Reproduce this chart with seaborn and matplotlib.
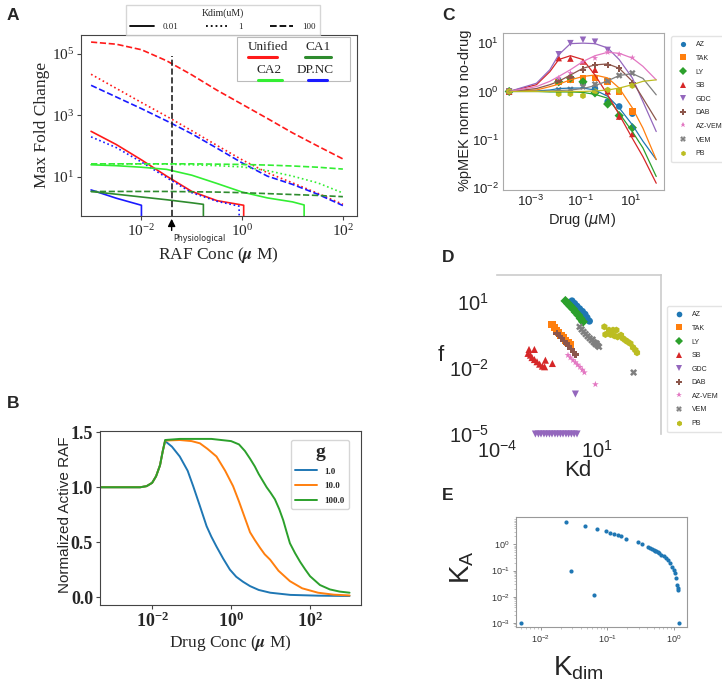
import numpy as np
import pandas as pd
import matplotlib
matplotlib.use('Agg')
import matplotlib.pyplot as plt
import seaborn as sns
from matplotlib.lines import Line2D
from matplotlib.patches import Rectangle
from matplotlib.ticker import FixedLocator, FuncFormatter, NullLocator, LogLocator, NullFormatter

W, H = 722, 681
SERIF = 'Liberation Serif'
SANS = 'Liberation Sans'

# ---------------- panel A (log10 of values) ----------------
a_x = [-3, -2.5, -2, -1.5, -1, -0.5, 0, 0.5, 1, 1.5, 2]
uni_k100 = [5.39, 5.32, 5.14, 4.78, 4.32, 3.82, 3.36, 2.9, 2.43, 2.0, 1.58]
uni_k1 = [4.34, 3.88, 3.42, 2.97, 2.5, 2.02, 1.55, 1.13, 0.8, 0.46, 0.1]
dp_k100 = [3.98, 3.6, 3.22, 2.82, 2.4, 1.93, 1.45, 1.02, 0.75, 0.43, 0.06]
ca2_k100 = [1.42, 1.42, 1.42, 1.42, 1.42, 1.41, 1.40, 1.38, 1.35, 1.31, 1.25]
ca2_k1 = [1.42, 1.42, 1.42, 1.41, 1.39, 1.36, 1.32, 1.2, 1.02, 0.8, 0.47]
ca1_k100 = [0.52, 0.52, 0.52, 0.52, 0.51, 0.5, 0.48, 0.45, 0.42, 0.39, 0.35]
# curves that end by dropping to zero
uni_k001_x = [-3, -2.5, -2, -1.5, -1, -0.5, 0.03, 0.03]
uni_k001 = [2.48, 2.05, 1.55, 1.02, 0.52, 0.22, 0.07, -3]
dp_k1_x = [-3, -2.5, -2, -1.5, -1, -0.5, -0.06, -0.06]
dp_k1 = [2.3, 1.95, 1.48, 0.97, 0.48, 0.2, 0.04, -3]
dp_k001_x = [-3, -2.5, -2, -2]
dp_k001 = [0.57, 0.3, 0.07, -3]
ca1_k001_x = [-3, -2.5, -2, -1.5, -1, -0.77, -0.77]
ca1_k001 = [0.52, 0.43, 0.34, 0.25, 0.15, 0.1, -3]
ca2_k001_x = [-3, -2.5, -2, -1.5, -1, -0.5, 0, 0.5, 1, 1.23, 1.23]
ca2_k001 = [1.39, 1.36, 1.31, 1.24, 1.05, 0.78, 0.5, 0.31, 0.18, 0.08, -3]
physio_x = 10 ** -1.4
physio_top = 10 ** 4.93

RED, DGREEN, LGREEN, BLUE = '#ff1a1a', '#2e8b2e', '#33ee33', '#1a1aff'

# ---------------- panel B ----------------
b_g1_x = [-3.3, -2.5, -2.3, -2.14, -2.0, -1.9, -1.8, -1.73, -1.67, -1.5, -1.3, -1.1, -0.96,
          -0.8, -0.62, -0.5, -0.37, -0.2, -0.03, 0.13, 0.3, 0.48, 0.7, 0.99, 1.5, 2.2, 3.0]
b_g1 = [1.0, 1.0, 1.0, 1.01, 1.04, 1.1, 1.2, 1.33, 1.42, 1.37, 1.28, 1.15, 1.01,
        0.84, 0.645, 0.55, 0.46, 0.35, 0.25, 0.185, 0.14, 0.1, 0.065, 0.04, 0.02, 0.013, 0.01]
b_g10_x = [-3.3, -2.5, -2.3, -2.14, -2.0, -1.9, -1.8, -1.73, -1.67, -1.3, -1.0, -0.79, -0.6,
           -0.37, -0.15, 0.05, 0.2, 0.39, 0.48, 0.6, 0.73, 0.85, 0.99, 1.2, 1.49, 1.8, 2.2,
           2.6, 3.0]
b_g10 = [1.0, 1.0, 1.0, 1.01, 1.04, 1.1, 1.2, 1.33, 1.425, 1.43, 1.42, 1.40, 1.35,
         1.28, 1.15, 1.01, 0.87, 0.68, 0.59, 0.52, 0.45, 0.39, 0.34, 0.24, 0.145, 0.08, 0.04,
         0.022, 0.015]
b_g100_x = [-3.3, -2.5, -2.3, -2.14, -2.0, -1.9, -1.8, -1.73, -1.67, -1.3, -0.5, 0.0, 0.2,
            0.35, 0.48, 0.6, 0.7, 0.8, 0.9, 1.0, 1.11, 1.22, 1.32, 1.4, 1.49, 1.62, 1.75, 1.88,
            2.0, 2.25, 2.5, 2.75, 3.0]
b_g100 = [1.0, 1.0, 1.0, 1.01, 1.04, 1.1, 1.2, 1.33, 1.43, 1.44, 1.44, 1.42, 1.39,
          1.33, 1.26, 1.19, 1.12, 1.06, 1.0, 0.95, 0.89, 0.8, 0.7, 0.6, 0.49, 0.4, 0.32, 0.25,
          0.19, 0.11, 0.07, 0.05, 0.04]
b_labels = ['1.0', '10.0', '100.0']

# ---------------- panel C ----------------
DRUGS = ['AZ', 'TAK', 'LY', 'SB', 'GDC', 'DAB', 'AZ-VEM', 'VEM', 'PB']
PAL = dict(zip(DRUGS, sns.color_palette('tab10', 10)[:9]))
MARKERS = {'AZ': 'o', 'TAK': 's', 'LY': 'D', 'SB': '^', 'GDC': 'v', 'DAB': 'P',
           'AZ-VEM': '*', 'VEM': 'X', 'PB': 'h'}
c_dose = [1.4e-4, 0.013, 0.038, 0.12, 0.36, 1.15, 3.3, 11]
c_pts = {  # log10 of %pMEK
    'AZ': [0, 0.22, 0.24, 0.18, 0.06, -0.21, -0.31, -0.46],
    'TAK': [0, 0.2, 0.25, 0.28, 0.28, 0.21, 0.0, -0.41],
    'LY': [0, 0.2, 0.28, 0.2, -0.03, -0.26, -0.5, -0.75],
    'SB': [0, 0.69, 0.68, 0.62, 0.45, 0.0, -0.52, -0.88],
    'GDC': [0, 0.77, 1.0, 1.07, 1.03, 0.86],
    'DAB': [0, 0.21, 0.29, 0.45, 0.55, 0.55, 0.48, 0.17],
    'AZ-VEM': [0, 0.28, 0.38, 0.61, 0.69, 0.81, 0.77, 0.70],
    'VEM': [0, 0.03, 0.04, 0.1, 0.15, 0.22, 0.33, 0.38],
    'PB': [0, -0.05, -0.05, -0.09, 0.0, 0.03, 0.02, 0.12],
}
c_fit_dose = [1.4e-4, 1.7e-3, 5.8e-3, 0.013, 0.038, 0.12, 0.36, 1.15, 3.3, 11, 29, 98]
c_fit = {
    'AZ': [0, 0.01, 0.03, 0.06, 0.07, 0.07, 0.03, -0.1, -0.34, -0.69, -1.03, -1.41],
    'TAK': [0, 0.03, 0.1, 0.15, 0.24, 0.31, 0.34, 0.28, 0.07, -0.34, -0.76, -1.41],
    'LY': [0, 0, -0.01, -0.01, -0.01, -0.02, -0.06, -0.14, -0.45, -0.83, -1.17, -1.76],
    'SB': [0, 0.14, 0.41, 0.66, 0.74, 0.66, 0.34, -0.07, -0.48, -0.97, -1.35, -1.9],
    'GDC': [0, 0.17, 0.45, 0.76, 0.99, 1.0, 0.99, 0.9, 0.66, 0.28, -0.21, -0.83],
    'DAB': [0, 0.06, 0.14, 0.21, 0.34, 0.48, 0.55, 0.57, 0.48, 0.21, -0.14, -0.59],
    'AZ-VEM': [0, 0.1, 0.21, 0.31, 0.45, 0.62, 0.74, 0.81, 0.79, 0.69, 0.52, 0.24],
    'VEM': [0, 0, 0.01, 0.02, 0.03, 0.06, 0.12, 0.22, 0.33, 0.37, 0.27, -0.07],
    'PB': [0, 0, 0, 0, 0, 0, 0.01, 0.03, 0.07, 0.14, 0.21, 0.24],
}

# ---------------- panel D (log10 Kd, log10 f) ----------------
d_kd = {
    'AZ': [-0.25, -0.12, 0.0, 0.13, 0.27, 0.4, 0.5, 0.62],
    'TAK': [-1.25, -1.13, -1.03, -0.92, -0.8, -0.68, -0.57, -0.45, -0.33],
    'LY': [-0.58, -0.45, -0.33, -0.2, -0.07, 0.07, 0.18, 0.3],
    'SB': [-2.4, -2.13, -2.45, -2.33, -2.25, -2.13, -2.0, -1.87, -1.73, -1.62, -1.58, -1.23],
    'GDC': [-0.08, -2.08, -1.93, -1.8, -1.65, -1.52, -1.38, -1.25, -1.1, -0.97, -0.83, -0.7,
            -0.55, -0.42, -0.28, -0.14, 0.0],
    'DAB': [-1.0, -0.88, -0.77, -0.65, -0.53, -0.42, -0.3, -0.18, -0.08],
    'AZ-VEM': [-0.45, -0.33, -0.2, -0.08, 0.03, 0.15, 0.27, 0.37, 0.92],
    'VEM': [0.13, 0.23, 0.33, 0.43, 0.53, 0.63, 0.73, 0.83, 0.93, 1.03, 1.1, 0.78, 0.9, 0.98, 2.83],
    'PB': [1.37, 1.6, 1.8, 1.97, 1.42, 1.67, 1.87, 2.03, 2.2, 2.3, 2.42, 2.53, 2.67, 2.8, 2.92, 3.0],
}
d_f = {
    'AZ': [1.06, 0.94, 0.82, 0.7, 0.58, 0.45, 0.3, 0.14],
    'TAK': [-0.02, -0.15, -0.27, -0.39, -0.5, -0.62, -0.73, -0.82, -0.92],
    'LY': [1.06, 0.94, 0.82, 0.7, 0.55, 0.41, 0.26, 0.11],
    'SB': [-1.15, -1.15, -1.33, -1.41, -1.52, -1.61, -1.71, -1.82, -1.91, -1.94, -1.64, -1.79],
    'GDC': [-3.18] + [-5] * 16,
    'DAB': [-0.42, -0.53, -0.64, -0.76, -0.88, -1.0, -1.12, -1.26, -1.38],
    'AZ-VEM': [-1.41, -1.52, -1.64, -1.74, -1.85, -1.95, -2.08, -2.2, -2.74],
    'VEM': [-0.12, -0.24, -0.35, -0.45, -0.55, -0.64, -0.73, -0.82, -0.91, -0.97, -1.03,
            -0.7, -0.85, -0.88, -2.2],
    'PB': [-0.12, -0.27, -0.27, -0.27, -0.47, -0.47, -0.53, -0.58, -0.5, -0.65, -0.73, -0.8,
           -0.88, -1.06, -1.18, -1.3],
}

# ---------------- panel E (log10 Kdim, log10 KA) ----------------
e_kdim = [-2.3, -1.62, -1.54, -1.33, -1.2, -1.15, -1.02, -0.95, -0.9, -0.84, -0.79, -0.71,
          -0.54, -0.47, -0.38, -0.35, -0.33, -0.3, -0.28, -0.26, -0.24, -0.22, -0.19, -0.15,
          -0.12, -0.09, -0.05, -0.02, 0.0, 0.02, 0.04, 0.05, 0.07, 0.07, 0.08]
e_ka = [-2.98, 0.85, -1.03, 0.7, -1.94, 0.57, 0.49, 0.44, 0.41, 0.37, 0.32, 0.22,
        0.09, 0.01, -0.1, -0.13, -0.16, -0.2, -0.24, -0.27, -0.3, -0.33, -0.39, -0.44,
        -0.52, -0.61, -0.73, -0.86, -0.99, -1.11, -1.28, -1.56, -1.65, -1.75, -2.98]

# ==================================================================
sns.set_style('ticks')
plt.rcParams['font.family'] = [SANS, 'DejaVu Sans']
fig = plt.figure(figsize=(W / 100, H / 100), dpi=100)


def px_axes(l, t, r, b):
    return fig.add_axes([l / W, 1 - b / H, (r - l) / W, (b - t) / H])


def ftext(x, y, s, **kw):
    kw.setdefault('ha', 'center')
    kw.setdefault('va', 'center')
    fig.text(x / W, 1 - y / H, s, **kw)


def pow_fmt(v, pos):
    return r'$\mathregular{10^{%d}}$' % int(round(np.log10(v)))


# ---------------- A ----------------
axA = px_axes(81, 35, 357, 216)
axA.set_xscale('log')
axA.set_yscale('log')
a_series = [
    (a_x, uni_k100, RED, '--'), (a_x, uni_k1, RED, ':'), (uni_k001_x, uni_k001, RED, '-'),
    (a_x, dp_k100, BLUE, '--'), (dp_k1_x, dp_k1, BLUE, ':'), (dp_k001_x, dp_k001, BLUE, '-'),
    (a_x, ca2_k100, LGREEN, '--'), (a_x, ca2_k1, LGREEN, ':'), (ca2_k001_x, ca2_k001, LGREEN, '-'),
    (a_x, ca1_k100, DGREEN, '--'), (ca1_k001_x, ca1_k001, DGREEN, '-'),
]
for xs, ys, col, ls in a_series:
    d = pd.DataFrame({'x': np.power(10.0, xs), 'y': np.power(10.0, ys)})
    sns.lineplot(data=d, x='x', y='y', color=col, linestyle=ls, lw=1.2,
                 estimator=None, sort=False, ax=axA)
axA.set_xlim(10 ** -3.2, 10 ** 2.28)
axA.set_ylim(10 ** -0.28, 10 ** 5.62)
axA.vlines(physio_x, 10 ** -0.28, physio_top, colors='#222222', linestyles='--', lw=1.2)
axA.xaxis.set_major_locator(FixedLocator([1e-2, 1, 1e2]))
axA.yaxis.set_major_locator(FixedLocator([10, 1e3, 1e5]))
for axis in (axA.xaxis, axA.yaxis):
    axis.set_minor_locator(NullLocator())
    axis.set_major_formatter(FuncFormatter(pow_fmt))
axA.tick_params(labelsize=11, length=3, color='#444444', pad=2)
for t in axA.get_xticklabels() + axA.get_yticklabels():
    t.set_family(SERIF)
axA.set_xlabel('')
axA.set_ylabel('')
for s in axA.spines.values():
    s.set_color('#444444')
axA.annotate('', xy=(physio_x, 0), xycoords=('data', 'axes fraction'),
             xytext=(physio_x, -0.095), textcoords=('data', 'axes fraction'),
             arrowprops=dict(arrowstyle='-|>', color='black', lw=1, mutation_scale=11),
             annotation_clip=False)
ftext(173, 238, 'Physiological', ha='left', fontsize=5.8, family='DejaVu Sans')
ftext(42, 125, 'Max Fold Change', rotation=90, fontsize=12.5, family=SERIF)
ftext(218, 255, r'RAF Conc ($\boldsymbol{\mu}$ M)', fontsize=12.5, family=SERIF,
      math_fontfamily='stix')

# Kdim legend (above panel A)
kd_handles = [Line2D([], [], color='black', lw=1.3, ls=ls) for ls in ['-', ':', '--']]
fig.legend(kd_handles, ['0.01', '1', '100'], ncol=3, title='Kdim(uM)',
           loc='upper center', bbox_to_anchor=(223 / W, 1.0),
           prop=dict(family=SERIF, size=6.5), title_fontproperties=dict(family=SERIF, size=7),
           frameon=True, edgecolor='#cccccc', fancybox=False, handlelength=2.6,
           columnspacing=3.0, borderpad=0.45, handletextpad=1.0)

# model legend (handles drawn under each label)
fig.add_artist(Rectangle((237 / W, 1 - 81 / H), 113 / W, 44 / H, transform=fig.transFigure,
                         facecolor='white', edgecolor='#bbbbbb', lw=0.8, zorder=5))
for lab, col, tx, ty, lx0, lx1 in [('Unified', RED, 268, 47, 248, 277),
                                    ('CA1', DGREEN, 318, 47, 305, 331),
                                    ('CA2', LGREEN, 269, 70, 258, 282),
                                    ('DP.NC', BLUE, 315, 70, 308, 327)]:
    ftext(tx, ty, lab, fontsize=9.5, family=SERIF, zorder=6)
    ly = ty + 10
    fig.add_artist(Line2D([lx0 / W, lx1 / W], [1 - ly / H, 1 - ly / H], color=col, lw=2.2,
                          transform=fig.transFigure, zorder=6))

# ---------------- B ----------------
axB = px_axes(100, 431, 361, 605)
axB.set_xscale('log')
b_df = pd.concat([
    pd.DataFrame({'x': np.power(10.0, xs), 'y': ys, 'g': lab})
    for xs, ys, lab in [(b_g1_x, b_g1, b_labels[0]), (b_g10_x, b_g10, b_labels[1]),
                        (b_g100_x, b_g100, b_labels[2])]])
sns.lineplot(data=b_df, x='x', y='y', hue='g', hue_order=b_labels,
             palette=sns.color_palette('tab10', 3), lw=1.4, estimator=None, sort=False, ax=axB)
axB.set_xlim(10 ** -3.32, 10 ** 3.29)
axB.set_ylim(-0.072, 1.512)
axB.xaxis.set_major_locator(FixedLocator([1e-2, 1, 1e2]))
axB.xaxis.set_minor_locator(NullLocator())
axB.xaxis.set_major_formatter(FuncFormatter(pow_fmt))
axB.yaxis.set_major_locator(FixedLocator([0, 0.5, 1.0, 1.5]))
axB.yaxis.set_major_formatter(FuncFormatter(lambda v, p: '%.1f' % v))
axB.tick_params(labelsize=13, length=3, color='#444444', pad=2)
for t in axB.get_xticklabels() + axB.get_yticklabels():
    t.set_family(SERIF)
    t.set_weight('bold')
axB.set_xlabel('')
axB.set_ylabel('')
for s in axB.spines.values():
    s.set_color('#444444')
axB.legend(title='g', loc='upper right', bbox_to_anchor=(0.97, 0.975),
           prop=dict(family=SERIF, weight='bold', size=6.5),
           title_fontproperties=dict(family=SERIF, weight='bold', size=14),
           handlelength=2.4, borderpad=0.45, labelspacing=0.7, edgecolor='#cccccc')
ftext(65, 515, 'Normalized Active RAF', rotation=90, fontsize=11, family=SANS)
ftext(230, 643, r'Drug Conc ($\boldsymbol{\mu}$ M)', fontsize=12.5, family=SERIF,
      math_fontfamily='stix')

# ---------------- C ----------------
axC = px_axes(503, 33, 664, 190)
axC.set_xscale('log')
axC.set_yscale('log')
c_fit_df = pd.concat([pd.DataFrame({'dose': c_fit_dose, 'v': np.power(10.0, c_fit[k]), 'drug': k})
                      for k in DRUGS])
sns.lineplot(data=c_fit_df, x='dose', y='v', hue='drug', hue_order=DRUGS, palette=PAL,
             lw=0.9, estimator=None, legend=False, ax=axC)
c_pt_df = pd.concat([pd.DataFrame({'dose': c_dose[:len(c_pts[k])],
                                   'v': np.power(10.0, c_pts[k]), 'drug': k}) for k in DRUGS])
sns.scatterplot(data=c_pt_df, x='dose', y='v', hue='drug', style='drug', hue_order=DRUGS,
                style_order=DRUGS, palette=PAL, markers=MARKERS, s=22, linewidth=0, ax=axC)
axC.set_xlim(10 ** -4.1, 10 ** 2.3)
axC.set_ylim(10 ** -2.04, 10 ** 1.21)
axC.xaxis.set_major_locator(FixedLocator([1e-3, 1e-1, 1e1]))
axC.yaxis.set_major_locator(FixedLocator([1e-2, 1e-1, 1, 1e1]))
for axis in (axC.xaxis, axC.yaxis):
    axis.set_minor_locator(NullLocator())
axC.tick_params(labelsize=9.5, length=0, pad=3, labelcolor='#222222')
axC.set_xlabel('')
axC.set_ylabel('')
for s in axC.spines.values():
    s.set_color('#aaaaaa')
sns.move_legend(axC, 'upper left', bbox_to_anchor=(1.025, 1.0), title=None, fontsize=5,
                frameon=True, labelspacing=0.95, handletextpad=0.8, borderpad=0.7,
                markerscale=0.8, edgecolor='#dddddd')
ftext(465, 110, '%pMEK norm to no-drug', rotation=90, fontsize=10.5)
ftext(582, 220, r'Drug ($\mu$M)', fontsize=10.5)

# ---------------- D ----------------
axD = px_axes(497, 275, 661, 434)
axD.set_xscale('log')
axD.set_yscale('log')
d_df = pd.concat([pd.DataFrame({'kd': np.power(10.0, d_kd[k]), 'f': np.power(10.0, d_f[k]),
                                'drug': k}) for k in DRUGS])
sns.scatterplot(data=d_df, x='kd', y='f', hue='drug', style='drug', hue_order=DRUGS,
                style_order=DRUGS, palette=PAL, markers=MARKERS, s=26, linewidth=0,
                clip_on=False, ax=axD)
axD.set_xlim(1e-4, 10 ** 4.2)
axD.set_ylim(1e-5, 10 ** 2.24)
axD.xaxis.set_major_locator(FixedLocator([1e-4, 1e1]))
axD.yaxis.set_major_locator(FixedLocator([1e-5, 1e-2, 1e1]))
for axis in (axD.xaxis, axD.yaxis):
    axis.set_minor_locator(NullLocator())
axD.tick_params(axis='x', labelsize=14.5, length=0, pad=4)
axD.tick_params(axis='y', labelsize=14.5, length=0, pad=6)
axD.set_xlabel('')
axD.set_ylabel('')
axD.spines['left'].set_visible(False)
axD.spines['bottom'].set_visible(False)
for side in ('top', 'right'):
    axD.spines[side].set_color('#cccccc')
    axD.spines[side].set_linewidth(1.2)
sns.move_legend(axD, 'upper left', bbox_to_anchor=(1.018, 0.824), title=None, fontsize=5,
                frameon=True, labelspacing=0.95, handletextpad=0.8, borderpad=0.7,
                markerscale=0.8, edgecolor='#dddddd')
ftext(441, 355, 'f', fontsize=16)
ftext(578, 471, 'Kd', fontsize=16)

# ---------------- E ----------------
axE = px_axes(516, 517, 687, 627)
axE.set_xscale('log')
axE.set_yscale('log')
sns.scatterplot(x=np.power(10.0, e_kdim), y=np.power(10.0, e_ka), s=9, color='#1f77b4',
                linewidth=0, ax=axE)
axE.set_xlim(10 ** -2.37, 10 ** 0.2)
axE.set_ylim(10 ** -3.15, 10 ** 1.04)
axE.xaxis.set_major_locator(FixedLocator([1e-2, 1e-1, 1]))
axE.yaxis.set_major_locator(FixedLocator([1e-3, 1e-2, 1e-1, 1]))
axE.xaxis.set_minor_locator(LogLocator(base=10, subs=np.arange(2, 10), numticks=20))
axE.yaxis.set_minor_locator(LogLocator(base=10, subs=np.arange(2, 10), numticks=20))
axE.xaxis.set_minor_formatter(NullFormatter())
axE.yaxis.set_minor_formatter(NullFormatter())
axE.tick_params(which='major', labelsize=6.5, length=2.5, width=0.6, pad=2,
                color='#888888', labelcolor='#333333')
axE.tick_params(which='minor', length=1.5, width=0.4, color='#999999')
axE.set_xlabel('')
axE.set_ylabel('')
for s in axE.spines.values():
    s.set_color('#999999')
    s.set_linewidth(0.8)
ftext(462, 567, r'K$_\mathregular{A}$', rotation=90, fontsize=20)
ftext(578, 668, r'K$_\mathregular{dim}$', fontsize=20)

# ---------------- panel letters ----------------
for lab, x, y in [('A', 7, 15), ('B', 7, 404), ('C', 442, 15), ('D', 442, 257), ('E', 442, 495)]:
    ftext(x, y, lab, fontsize=12.5, weight='bold', ha='left')

fig.savefig('out.png', dpi=100)
